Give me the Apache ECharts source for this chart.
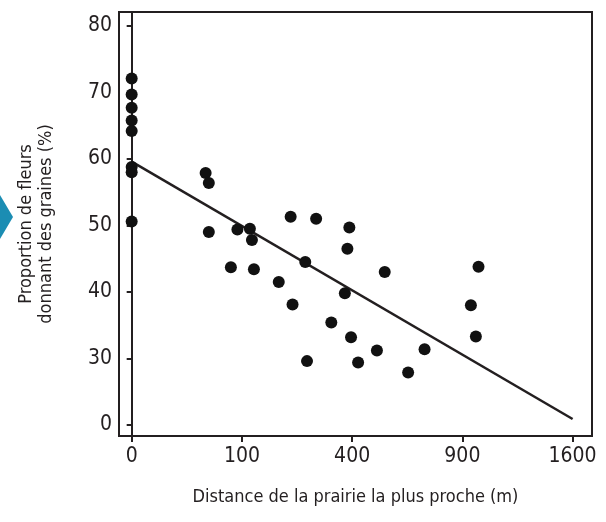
<!DOCTYPE html>
<html>
<head>
<meta charset="utf-8">
<script src="https://cdn.jsdelivr.net/npm/echarts@6/dist/echarts.min.js"></script>
<style>
  html, body { margin: 0; padding: 0; background: #fff; }
  #chart { width: 606px; height: 522px; }
</style>
</head>
<body>
<div id="chart"></div>
<script>
// distance (m) et proportion (%)
const distances = [0, 0, 0, 0, 0, 0, 0, 0,
  45, 49, 49, 92, 115, 119, 81, 123, 178, 213, 208, 280, 248, 253,
  328, 390, 383, 374, 396, 422, 495, 527, 629, 706, 947, 975, 990];
const proportions = [72.1, 69.7, 67.7, 65.8, 64.2, 58.8, 58.0, 50.6,
  57.9, 56.4, 49.0, 49.4, 49.5, 47.8, 43.7, 43.4, 41.5, 38.1, 51.3, 51.0, 44.5, 29.6,
  35.4, 49.7, 46.5, 39.8, 33.2, 29.4, 31.2, 43.0, 27.9, 31.4, 38.0, 33.3, 43.8];

// droite de régression
const lineX = [0, 1600];
const lineY = [59.6, 20.9];

// graduations
const xTicks = [0, 100, 400, 900, 1600];
const yTicks = [20, 30, 40, 50, 60, 70, 80];
const yTickText = ['0', '30', '40', '50', '60', '70', '80'];

const ink = '#231f20';
const font = "'Liberation Sans Narrow', 'DejaVu Sans Condensed', sans-serif";

const points = distances.map((d, i) => [Math.sqrt(d), proportions[i]]);
const line = lineX.map((d, i) => [Math.sqrt(d), lineY[i]]);

const option = {
  animation: false,
  grid: {
    left: 119, right: 14, top: 12, bottom: 86,
    show: true, borderColor: ink, borderWidth: 2
  },
  xAxis: {
    type: 'value',
    min: -1.15,
    max: 41.76,
    name: 'Distance de la prairie la plus proche (m)',
    nameLocation: 'middle',
    nameGap: 52,
    nameTextStyle: { fontFamily: font, fontSize: 18, color: ink },
    axisLine: { lineStyle: { color: ink, width: 2 } },
    axisTick: {
      customValues: xTicks.map(Math.sqrt),
      length: 6,
      lineStyle: { color: ink, width: 2 }
    },
    axisLabel: {
      customValues: xTicks.map(Math.sqrt),
      formatter: v => String(Math.round(v * v)),
      fontFamily: font, fontSize: 21, color: ink, margin: 10
    },
    splitLine: { show: false }
  },
  yAxis: {
    type: 'value',
    min: 18.34,
    max: 82.1,
    name: 'Proportion de fleurs\ndonnant des graines (%)',
    nameLocation: 'middle',
    nameRotate: 90,
    nameGap: 63,
    nameTextStyle: { fontFamily: font, fontSize: 18, color: ink, lineHeight: 20 },
    axisLine: { lineStyle: { color: ink, width: 2 } },
    axisTick: {
      customValues: yTicks,
      length: 5,
      lineStyle: { color: ink, width: 2 }
    },
    axisLabel: {
      customValues: yTicks,
      formatter: v => yTickText[yTicks.indexOf(Math.round(v))],
      fontFamily: font, fontSize: 21, color: ink, margin: 7
    },
    splitLine: { show: false }
  },
  graphic: [{
    type: 'polygon',
    shape: { points: [[0, 195], [13, 217], [0, 239]] },
    style: { fill: '#1b8db3' }
  }],
  series: [
    {
      type: 'line',
      data: line,
      symbol: 'none',
      lineStyle: { color: ink, width: 2.5 },
      z: 2
    },
    {
      type: 'scatter',
      data: points,
      symbolSize: 12,
      itemStyle: { color: '#111', opacity: 1 },
      z: 3
    }
  ]
};

echarts.init(document.getElementById('chart')).setOption(option);
</script>
</body>
</html>
